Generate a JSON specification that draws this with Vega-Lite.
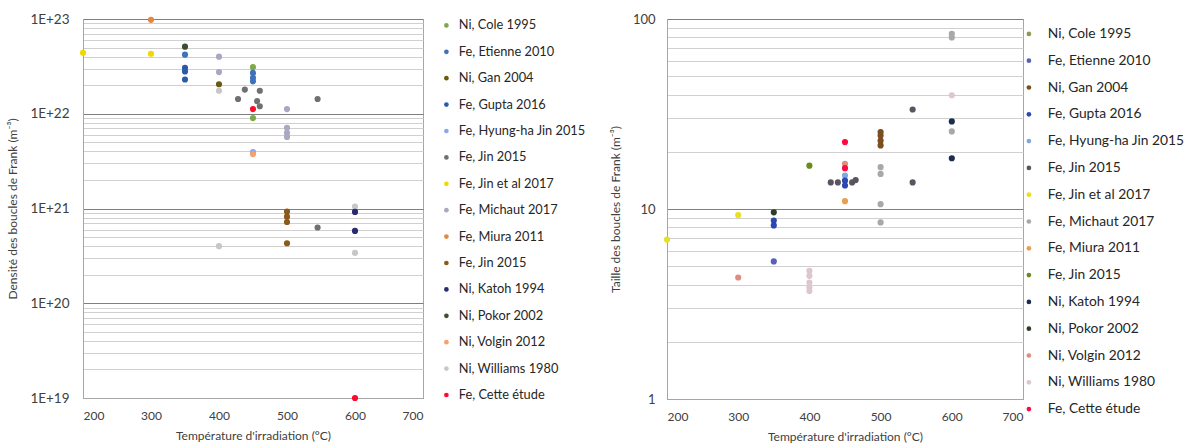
{
  "$schema": "https://vega.github.io/schema/vega-lite/v6.json",
  "padding": {"left": 6, "top": 11, "right": 0, "bottom": 0},
  "config": {
    "font": "Lato",
    "view": {"stroke": "#a6a6a6", "strokeWidth": 1},
    "axis": {"labelFont": "Lato", "titleFont": "Lato", "labelColor": "#404040", "titleColor": "#404040", "labelFontSize": 12, "titleFontSize": 12, "titleFontWeight": "normal", "ticks": false, "domainColor": "#a6a6a6"},
    "legend": {"labelFont": "Lato", "labelFontSize": 12.8, "labelColor": "#262626", "symbolType": "circle", "symbolSize": 22, "symbolStrokeWidth": 0, "rowPadding": 12.4, "padding": 0, "labelOffset": 6, "title": null}
  },
  "datasets": {
    "dens": [
      {"T": 200, "v": 4.4e22, "s": "Fe, Jin et al 2017"},
      {"T": 300, "v": 4.3e22, "s": "Fe, Jin et al 2017"},
      {"T": 300, "v": 9.8e22, "s": "Fe, Miura 2011"},
      {"T": 350, "v": 5.1e22, "s": "Ni, Pokor 2002"},
      {"T": 350, "v": 4.2e22, "s": "Fe, Etienne 2010"},
      {"T": 350, "v": 3.05e22, "s": "Fe, Gupta 2016"},
      {"T": 350, "v": 2.8e22, "s": "Fe, Gupta 2016"},
      {"T": 350, "v": 2.3e22, "s": "Fe, Gupta 2016"},
      {"T": 400, "v": 4.0e22, "s": "Fe, Michaut 2017"},
      {"T": 400, "v": 2.75e22, "s": "Fe, Michaut 2017"},
      {"T": 400, "v": 2.05e22, "s": "Ni, Gan 2004"},
      {"T": 400, "v": 1.75e22, "s": "Ni, Williams 1980"},
      {"T": 428, "v": 1.43e22, "s": "Fe, Jin 2015"},
      {"T": 438, "v": 1.8e22, "s": "Fe, Jin 2015"},
      {"T": 460, "v": 1.75e22, "s": "Fe, Jin 2015"},
      {"T": 456, "v": 1.36e22, "s": "Fe, Jin 2015"},
      {"T": 460, "v": 1.2e22, "s": "Fe, Jin 2015"},
      {"T": 450, "v": 3.1e22, "s": "Ni, Cole 1995"},
      {"T": 450, "v": 9.0e21, "s": "Ni, Cole 1995"},
      {"T": 450, "v": 2.7e22, "s": "Fe, Etienne 2010"},
      {"T": 450, "v": 2.4e22, "s": "Fe, Etienne 2010"},
      {"T": 450, "v": 2.2e22, "s": "Fe, Etienne 2010"},
      {"T": 450, "v": 3.95e21, "s": "Fe, Hyung-ha Jin 2015"},
      {"T": 450, "v": 3.75e21, "s": "Ni, Volgin 2012"},
      {"T": 450, "v": 1.12e22, "s": "Fe, Cette étude"},
      {"T": 500, "v": 1.12e22, "s": "Fe, Michaut 2017"},
      {"T": 500, "v": 7.1e21, "s": "Fe, Michaut 2017"},
      {"T": 500, "v": 6.3e21, "s": "Fe, Michaut 2017"},
      {"T": 500, "v": 5.7e21, "s": "Fe, Michaut 2017"},
      {"T": 545, "v": 1.43e22, "s": "Fe, Jin 2015"},
      {"T": 545, "v": 6.3e20, "s": "Fe, Jin 2015"},
      {"T": 500, "v": 9.3e20, "s": "Fe, Jin 2015 "},
      {"T": 500, "v": 8.2e20, "s": "Fe, Jin 2015 "},
      {"T": 500, "v": 7.2e20, "s": "Fe, Jin 2015 "},
      {"T": 500, "v": 4.3e20, "s": "Fe, Jin 2015 "},
      {"T": 600, "v": 1.05e21, "s": "Ni, Williams 1980"},
      {"T": 600, "v": 3.4e20, "s": "Ni, Williams 1980"},
      {"T": 400, "v": 4.0e20, "s": "Ni, Williams 1980"},
      {"T": 600, "v": 9.2e20, "s": "Ni, Katoh 1994"},
      {"T": 600, "v": 5.8e20, "s": "Ni, Katoh 1994"},
      {"T": 600, "v": 1.0e19, "s": "Fe, Cette étude"}
    ],
    "taille": [
      {"T": 200, "v": 6.9, "s": "Fe, Jin et al 2017"},
      {"T": 300, "v": 9.3, "s": "Fe, Jin et al 2017"},
      {"T": 300, "v": 4.36, "s": "Ni, Volgin 2012"},
      {"T": 350, "v": 9.6, "s": "Ni, Pokor 2002"},
      {"T": 350, "v": 8.7, "s": "Fe, Gupta 2016"},
      {"T": 350, "v": 8.2, "s": "Fe, Gupta 2016"},
      {"T": 350, "v": 5.3, "s": "Fe, Etienne 2010"},
      {"T": 400, "v": 16.9, "s": "Fe, Jin 2015 "},
      {"T": 400, "v": 4.73, "s": "Ni, Williams 1980"},
      {"T": 400, "v": 4.45, "s": "Ni, Williams 1980"},
      {"T": 400, "v": 4.1, "s": "Ni, Williams 1980"},
      {"T": 400, "v": 3.87, "s": "Ni, Williams 1980"},
      {"T": 400, "v": 3.7, "s": "Ni, Williams 1980"},
      {"T": 430, "v": 13.8, "s": "Fe, Jin 2015"},
      {"T": 440, "v": 13.8, "s": "Fe, Jin 2015"},
      {"T": 460, "v": 13.8, "s": "Fe, Jin 2015"},
      {"T": 465, "v": 14.2, "s": "Fe, Jin 2015"},
      {"T": 450, "v": 22.5, "s": "Fe, Cette étude"},
      {"T": 450, "v": 17.3, "s": "Ni, Volgin 2012"},
      {"T": 450, "v": 16.4, "s": "Fe, Cette étude"},
      {"T": 450, "v": 15.0, "s": "Fe, Hyung-ha Jin 2015"},
      {"T": 450, "v": 14.1, "s": "Fe, Gupta 2016"},
      {"T": 450, "v": 13.3, "s": "Fe, Gupta 2016"},
      {"T": 450, "v": 11.0, "s": "Fe, Miura 2011"},
      {"T": 500, "v": 25.4, "s": "Ni, Gan 2004"},
      {"T": 500, "v": 24.4, "s": "Ni, Gan 2004"},
      {"T": 500, "v": 22.9, "s": "Ni, Gan 2004"},
      {"T": 500, "v": 21.6, "s": "Ni, Gan 2004"},
      {"T": 500, "v": 16.6, "s": "Fe, Michaut 2017"},
      {"T": 500, "v": 15.3, "s": "Fe, Michaut 2017"},
      {"T": 500, "v": 10.6, "s": "Fe, Michaut 2017"},
      {"T": 500, "v": 8.5, "s": "Fe, Michaut 2017"},
      {"T": 545, "v": 33.4, "s": "Fe, Jin 2015"},
      {"T": 545, "v": 13.8, "s": "Fe, Jin 2015"},
      {"T": 600, "v": 83.6, "s": "Fe, Michaut 2017"},
      {"T": 600, "v": 80.0, "s": "Fe, Michaut 2017"},
      {"T": 600, "v": 39.7, "s": "Ni, Williams 1980"},
      {"T": 600, "v": 28.9, "s": "Ni, Katoh 1994"},
      {"T": 600, "v": 25.6, "s": "Fe, Michaut 2017"},
      {"T": 600, "v": 18.5, "s": "Ni, Katoh 1994"}
    ]
  },
  "resolve": {"scale": {"color": "independent"}, "legend": {"color": "independent"}},
  "spacing": 21,
  "hconcat": [
    {
      "width": 340,
      "height": 379,
      "data": {"name": "dens"},
      "mark": {"type": "circle", "size": 38, "opacity": 1},
      "encoding": {
        "x": {"field": "T", "type": "quantitative", "title": "Température d'irradiation (°C)",
              "scale": {"domain": [200, 700], "nice": false},
              "axis": {"values": [200, 300, 400, 500, 600, 700], "grid": false, "labelPadding": 12, "titlePadding": 9}},
        "y": {"field": "v", "type": "quantitative", "title": "Densité des boucles de Frank (m⁻³)",
              "scale": {"type": "log", "domain": [1e19, 1e23], "nice": false},
              "axis": {
                "values": [1e19, 2e19, 3e19, 4e19, 5e19, 6e19, 7e19, 8e19, 9e19, 1e20, 2e20, 3e20, 4e20, 5e20, 6e20, 7e20, 8e20, 9e20, 1e21, 2e21, 3e21, 4e21, 5e21, 6e21, 7e21, 8e21, 9e21, 1e22, 2e22, 3e22, 4e22, 5e22, 6e22, 7e22, 8e22, 9e22, 1e23],
                "labelExpr": "abs(log(datum.value)/LN10 - round(log(datum.value)/LN10)) < 0.001 ? '1E+' + round(log(datum.value)/LN10) : ''",
                "gridColor": {"condition": {"test": "abs(log(datum.value)/LN10 - round(log(datum.value)/LN10)) < 0.001", "value": "#7f7f7f"}, "value": "#d0d0d0"},
                "grid": true, "labelFontSize": 13.5, "labelPadding": 14, "titlePadding": 10, "labelOverlap": false}},
        "color": {"field": "s", "type": "nominal",
                  "scale": {"domain": ["Ni, Cole 1995", "Fe, Etienne 2010", "Ni, Gan 2004", "Fe, Gupta 2016", "Fe, Hyung-ha Jin 2015", "Fe, Jin 2015", "Fe, Jin et al 2017", "Fe, Michaut 2017", "Fe, Miura 2011", "Fe, Jin 2015 ", "Ni, Katoh 1994", "Ni, Pokor 2002", "Ni, Volgin 2012", "Ni, Williams 1980", "Fe, Cette étude"],
                            "range": ["#7fa848", "#3f72b8", "#6a5a10", "#2c5aa8", "#8aa8e8", "#707070", "#f0d800", "#a8a8c0", "#e08a40", "#8a5a1a", "#2a2a70", "#3e4e30", "#f4a070", "#c4c8c8", "#ff0a2a"]},
                  "legend": {"orient": "none", "legendX": 357, "legendY": 0}}
      }
    },
    {
      "width": 356,
      "height": 380,
      "data": {"name": "taille"},
      "mark": {"type": "circle", "size": 38, "opacity": 1},
      "encoding": {
        "x": {"field": "T", "type": "quantitative", "title": "Température d'irradiation (°C)",
              "scale": {"domain": [200, 700], "nice": false},
              "axis": {"values": [200, 300, 400, 500, 600, 700], "grid": false, "labelPadding": 12, "titlePadding": 9}},
        "y": {"field": "v", "type": "quantitative", "title": "Taille des boucles de Frank (m⁻³)",
              "scale": {"type": "log", "domain": [1, 100], "nice": false},
              "axis": {
                "values": [1, 2, 3, 4, 5, 6, 7, 8, 9, 10, 20, 30, 40, 50, 60, 70, 80, 90, 100],
                "labelExpr": "abs(log(datum.value)/LN10 - round(log(datum.value)/LN10)) < 0.001 ? datum.label : ''",
                "gridColor": {"condition": {"test": "abs(log(datum.value)/LN10 - round(log(datum.value)/LN10)) < 0.001", "value": "#7f7f7f"}, "value": "#d0d0d0"},
                "grid": true, "labelFontSize": 13, "labelPadding": 12, "titlePadding": 10, "labelOverlap": false}},
        "color": {"field": "s", "type": "nominal",
                  "scale": {"domain": ["Ni, Cole 1995", "Fe, Etienne 2010", "Ni, Gan 2004", "Fe, Gupta 2016", "Fe, Hyung-ha Jin 2015", "Fe, Jin 2015", "Fe, Jin et al 2017", "Fe, Michaut 2017", "Fe, Miura 2011", "Fe, Jin 2015 ", "Ni, Katoh 1994", "Ni, Pokor 2002", "Ni, Volgin 2012", "Ni, Williams 1980", "Fe, Cette étude"],
                            "range": ["#8a9a5a", "#5a60b8", "#7a4e1e", "#2a48b0", "#80a8d8", "#5a5460", "#e8e020", "#a8a8a8", "#e8a050", "#6a8a20", "#1c2c50", "#2e3e26", "#e08c80", "#dcc8cc", "#ff0a40"]},
                  "legend": {"orient": "none", "legendX": 355, "legendY": 8, "rowPadding": 11.8, "labelFontSize": 13.8, "labelOffset": 12}}
      }
    }
  ]
}
